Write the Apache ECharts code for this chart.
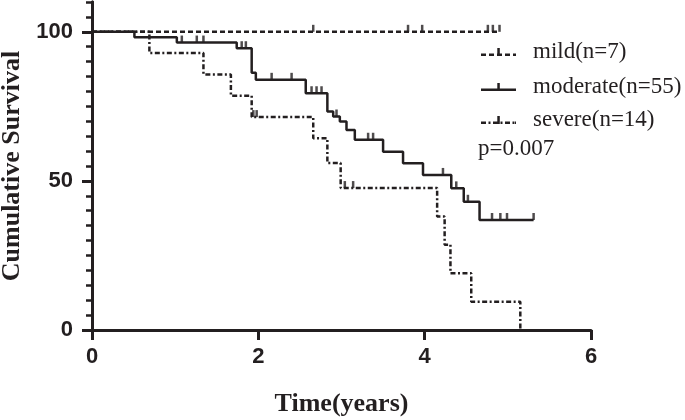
<!DOCTYPE html>
<html><head><meta charset="utf-8">
<script src="https://cdn.jsdelivr.net/npm/echarts@6/dist/echarts.min.js"></script>
<style>html,body{margin:0;padding:0;background:#fff}#c{width:685px;height:420px}</style>
</head><body><div id="c"></div>
<script>
// ---- data ----
const xTickValues = [0, 2, 4, 6];
const yTickValues = [0, 50, 100];
const yMinorTickValues = [5,10,15,20,25,30,35,40,45,55,60,65,70,75,80,85,90,95,105,110];

const seriesNames = ['mild(n=7)', 'moderate(n=55)', 'severe(n=14)'];

const mildTimes = [0];
const mildSurv = [100];
const mildEnd = 4.9;
const mildCensor = [2.66, 3.80, 3.97, 4.76, 4.82, 4.90];

const modTimes = [0, 0.51, 1.02, 1.74, 1.92, 1.97, 2.57, 2.83, 2.90, 2.98, 3.06, 3.16, 3.50, 3.74, 3.98, 4.32, 4.47, 4.66];
const modSurv  = [100, 98.2, 96.4, 94.5, 86.3, 83.9, 79.4, 73.3, 71.6, 69.9, 67.1, 63.8, 59.8, 55.9, 52.0, 47.5, 43.0, 36.9];
const modEnd = 5.31;
const modCensor = [1.08, 1.26, 1.34, 1.80, 1.85, 2.16, 2.40, 2.64, 2.70, 2.76, 2.94, 3.32, 3.38, 4.22, 4.38, 4.52, 4.81, 4.91, 4.99, 5.31];

const sevTimes = [0, 0.69, 1.34, 1.67, 1.92, 2.66, 2.83, 2.99, 4.15, 4.24, 4.31, 4.56, 5.15];
const sevSurv  = [100, 92.9, 85.7, 78.6, 71.4, 64.3, 56.0, 47.6, 38.1, 28.6, 19.0, 9.5, 0];
const sevEnd = 5.15;
const sevCensor = [1.94, 1.98, 3.04, 3.14];

const pValueText = 'p=0.007';

// ---- helpers ----
const INK = '#231f20';
function stepData(T, S, end) {
  const d = T.map((t, i) => [t, S[i]]);
  if (end > T[T.length - 1]) d.push([end, S[S.length - 1]]);
  return d;
}
function survAt(T, S, t) {
  let v = S[0];
  for (let i = 0; i < T.length; i++) if (T[i] <= t) v = S[i];
  return v;
}
function rect(x, y, w, h) { return 'M' + x + ',' + y + 'h' + w + 'v' + h + 'h' + (-w) + 'Z'; }
function iconPath(pattern) {
  const parts = [];
  if (!pattern) parts.push(rect(0, 5.5, 35, 2.5));
  else {
    let x = 0, i = 0, on = true;
    while (x < 35) {
      const len = pattern[i % pattern.length];
      if (on) parts.push(rect(x, 5.5, Math.min(len, 35 - x), 2.5));
      x += len; on = !on; i++;
    }
    parts.push(rect(34, 5.5, 1, 2.5));
  }
  parts.push(rect(16.3, 0, 2.5, 8));
  return 'path://' + parts.join('');
}

const dashes = [[5, 3], null, [5, 2.5, 2, 2.5]];
const curves = [
  stepData(mildTimes, mildSurv, mildEnd),
  stepData(modTimes, modSurv, modEnd),
  stepData(sevTimes, sevSurv, sevEnd)
];
const censors = [
  mildCensor.map(t => [t, survAt(mildTimes, mildSurv, t)]),
  modCensor.map(t => [t, survAt(modTimes, modSurv, t)]),
  sevCensor.map(t => [t, survAt(sevTimes, sevSurv, t)])
];

const series = [];
seriesNames.forEach((name, k) => {
  series.push({
    name: name, type: 'line', step: 'end', data: curves[k],
    showSymbol: false, symbol: 'none', silent: true, animation: false,
    lineStyle: { color: INK, width: 2.5, type: dashes[k] || 'solid', cap: 'butt' },
    itemStyle: { color: INK }, z: 3
  });
  series.push({
    name: name + '_c', type: 'scatter', data: censors[k],
    symbol: 'rect', symbolSize: [2.5, 7], symbolOffset: [0, -3.5],
    itemStyle: { color: INK }, silent: true, animation: false, z: 4
  });
});

const legendCenters = [47, 82, 115];
const legends = seriesNames.map((name, k) => ({
  data: [{ name: name, icon: iconPath(dashes[k]) }],
  left: 476, top: legendCenters[k] - 13,
  itemWidth: 35, itemHeight: 8, selectedMode: false,
  itemStyle: { color: INK, borderWidth: 0 },
  textStyle: { fontFamily: '"Liberation Serif", "Times New Roman", serif', fontSize: 23, color: INK, padding: [0, 0, 0, 12], lineHeight: 26 }
}));

const chart = echarts.init(document.getElementById('c'), null, { renderer: 'canvas' });
chart.setOption({
  animation: false,
  backgroundColor: '#fff',
  grid: { left: 92, right: 94, top: 2, bottom: 90, containLabel: false, outerBoundsMode: 'none' },
  legend: legends,
  xAxis: {
    type: 'value', min: xTickValues[0], max: xTickValues[xTickValues.length - 1], interval: 2,
    name: 'Time(years)', nameLocation: 'middle', nameGap: 61,
    nameTextStyle: { fontFamily: '"Liberation Serif", "Times New Roman", serif', fontWeight: 'bold', fontSize: 26, color: INK },
    axisLine: { show: true, lineStyle: { color: INK, width: 3 } },
    axisTick: { show: true, length: 10, lineStyle: { color: INK, width: 3 } },
    axisLabel: { margin: 16, fontFamily: '"Liberation Sans", Arial, sans-serif', fontWeight: 'bold', fontSize: 22, color: INK },
    splitLine: { show: false }
  },
  yAxis: [{
    type: 'value', min: 0, max: 110,
    name: 'Cumulative Survival', nameLocation: 'middle', nameGap: 64,
    nameTextStyle: { fontFamily: '"Liberation Serif", "Times New Roman", serif', fontWeight: 'bold', fontSize: 26, color: INK },
    axisLine: { show: true, lineStyle: { color: INK, width: 3 } },
    axisTick: { show: true, length: 10, customValues: yTickValues, lineStyle: { color: INK, width: 3 } },
    axisLabel: { customValues: yTickValues, margin: 19, fontFamily: '"Liberation Sans", Arial, sans-serif', fontWeight: 'bold', fontSize: 22, color: INK },
    splitLine: { show: false }
  }, {
    type: 'value', min: 0, max: 110, position: 'left', offset: 0,
    axisLine: { show: true, lineStyle: { color: INK, width: 3 } },
    axisTick: { show: true, length: 6, customValues: yMinorTickValues, lineStyle: { color: INK, width: 2.5 } },
    axisLabel: { show: false },
    splitLine: { show: false }
  }],
  graphic: [{
    type: 'text', left: 478, top: 137,
    style: { text: pValueText, font: '23px "Liberation Serif", "Times New Roman", serif', fill: INK }
  }],
  series: series
});
</script>
</body></html>
